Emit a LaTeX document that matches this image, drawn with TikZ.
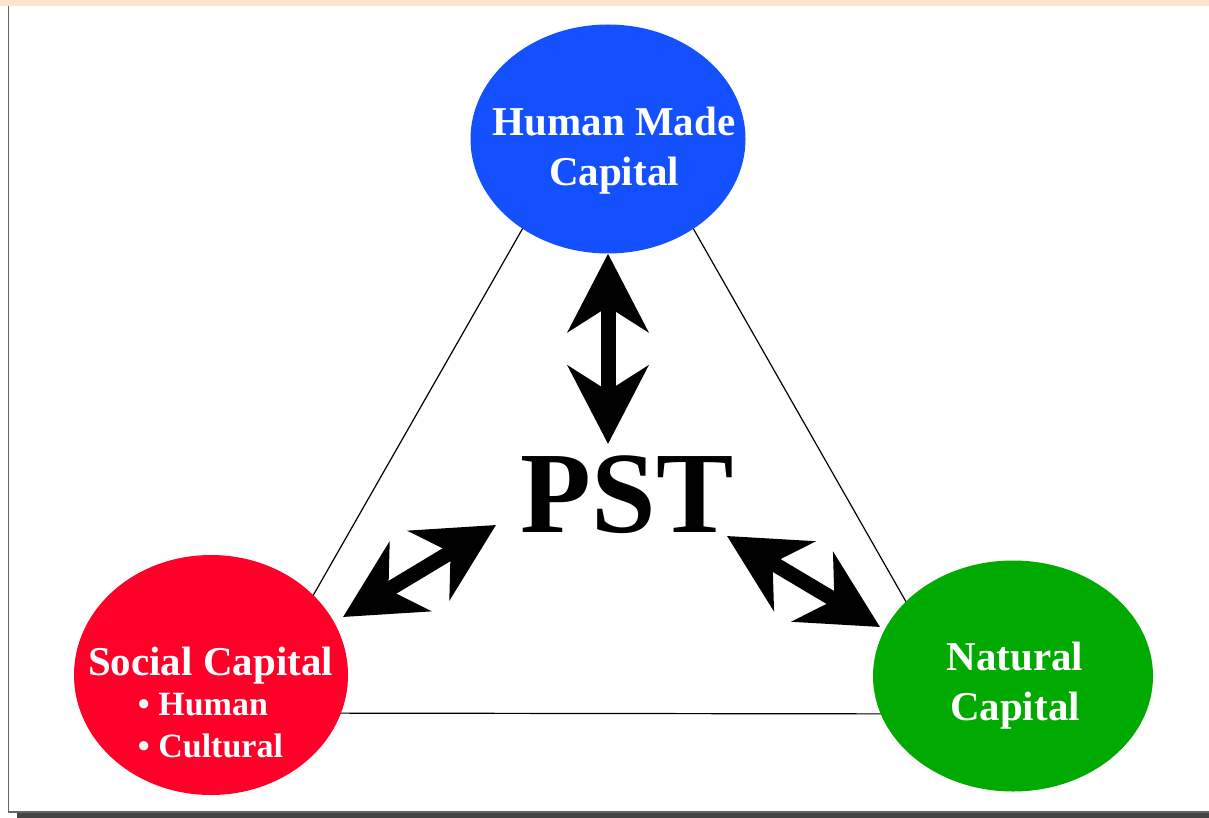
\documentclass[tikz,border=0pt]{standalone}
\usepackage{fontspec}
\setmainfont{Liberation Serif}
\usetikzlibrary{shapes.geometric,arrows.meta}
\definecolor{hmblue}{RGB}{20,80,254}
\definecolor{scred}{RGB}{255,0,40}
\definecolor{ncgreen}{RGB}{0,170,0}
\definecolor{topband}{RGB}{253,228,204}
\definecolor{shadowgray}{RGB}{68,68,68}
\definecolor{framegray}{RGB}{100,100,100}
\begin{document}
\begin{tikzpicture}
	[x=1pt, y=-1pt,
	capital/.style={ellipse, inner sep=0pt},
	captext/.style={text=white, font=\fontsize{41}{50}\selectfont\bfseries, align=center, inner sep=0pt},
	bigarrow/.style={line width=15pt, {Stealth[length=78pt, width=80pt, inset=25pt]}-{Stealth[length=78pt, width=80pt, inset=25pt]}}]
	\useasboundingbox (0,0) rectangle (1209,818);
	% frame
	\fill[topband] (0,0) rectangle (1209,6);
	\fill[shadowgray] (17,813) rectangle (1209,818);
	\draw[framegray, line width=1.5pt] (8.5,6) -- (8.5,812) -- (1209,812);
	% triangle
	\coordinate (top) at (608,79);
	\coordinate (left) at (246,713);
	\coordinate (right) at (970,714);
	\draw[line width=1.2pt] (top) -- (left) -- (right) -- cycle;
	% capitals
	\node[capital, fill=hmblue, minimum width=275pt, minimum height=229pt] (hm) at (608,139) {};
	\node[capital, fill=scred, minimum width=274pt, minimum height=240pt] (sc) at (211,675) {};
	\node[capital, fill=ncgreen, minimum width=280pt, minimum height=231pt] (nc) at (1013,676) {};
	\node[captext] (hm-t) at (614,150.5) {Human Made\\Capital};
	\node[captext, font=\fontsize{41}{40}\selectfont\bfseries] (sc-t) at (210.5,708.5)
		{Social Capital\\{\fontsize{34}{42}\selectfont\begin{tabular}[t]{@{}l@{}}• Human\\• Cultural\end{tabular}}};
	\node[captext] (nc-t) at (1015,686) {Natural\\Capital};
	\node[font=\fontsize{116}{130}\selectfont\bfseries, inner sep=0pt, anchor=base] (pst) at (627,532) {PST};
	% arrows
	\coordinate (sc-end) at (343,617);
	\coordinate (pst-sw) at (496,525);
	\coordinate (pst-se) at (727,536);
	\coordinate (nc-end) at (880,627);
	\draw[bigarrow, shorten >=11pt] (hm.south) -- (hm.south |- pst.north);
	\draw[bigarrow] (sc-end) -- (pst-sw);
	\draw[bigarrow] (pst-se) -- (nc-end);
\end{tikzpicture}
\end{document}
